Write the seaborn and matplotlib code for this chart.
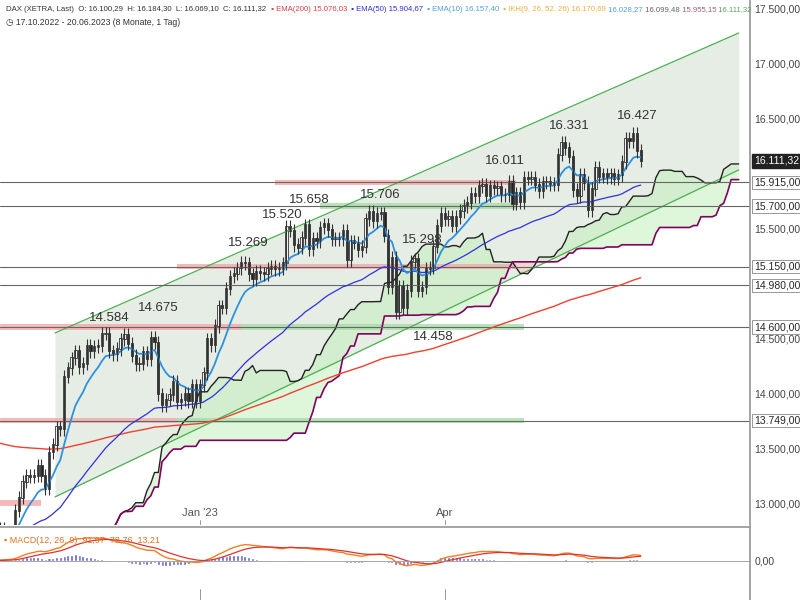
import numpy as np, pandas as pd, matplotlib
matplotlib.use("Agg")
import matplotlib.pyplot as plt
import seaborn as sns

sns.set_theme(style="white")
plt.rcParams['font.family'] = ['Liberation Sans', 'DejaVu Sans']

closes = [12650,12765,12740,12740,12730, 12930,13050,13195,13245,13240, 13250,13340,13250,13130,13460,
 13530,13690,13670,14150,14225, 14315,14380,14235,14265,14430, 14380,14420,14430,14540,14540,
 14380,14355,14400,14490,14530, 14450,14340,14260,14265,14370, 14310,14500,14460,13990,13890,
 13940,13985,14100,13915,13940, 13995,13925,14070,13925,
 14070,14180,14490,14435,14610, 14790,14775,14950,15060,15085, 15135,15185,15180,15080,15035,
 15100,15090,15080,15130,15150, 15125,15130,15180,15510,15475, 15345,15320,15410,15525,15310,
 15400,15380,15505,15535,15480, 15400,15400,15400,15475,15210, 15380,15365,15300,15330,15580,
 15650,15560,15630,15635,15430, 14960,15230,14735,14970,14770, 14930,15195,15215,14930,14960,
 15130,15140,15330,15520,15630, 15580,15600,15520,15600, 15655,15700,15730,15810,
 15790,15880,15895,15795,15880, 15860,15870,15800,15800,15920, 15720,15815,15735,15960,
 15950,15955,15895,15835,15915, 15915,15900,15895,16165,16275, 16225,16150,15845,15790,15985,
 15910,15660,15855,16050, 15965,15990,15960,15990,15950, 15980,16100,16310,16290,16360, 16200,16111]
wick = 60
tick_pos = [54, 119]
tick_labels = ["Jan '23", "Apr"]
peak_idx = [30, 43, 67, 76, 83, 102, 113, 116, 135, 152, 170]
peak_val = [14584, 14675, 15269, 15520, 15658, 15706, 15298, 14458, 16011, 16331, 16427]
peak_txt = ["14.584","14.675","15.269","15.520","15.658","15.706","15.298","14.458","16.011","16.331","16.427"]
peak_low = [False]*7 + [True] + [False]*3
levels = [15915, 15700, 15150, 14980, 14600, 13749]
level_txt = ["15.915,00","15.700,00","15.150,00","14.980,00","14.600,00","13.749,00"]
bands = [(15915,74,138,'#f4a8a8'),(15700,86,138,'#a8dca8'),(15150,48,138,'#f4a8a8'),
         (14600,0,65,'#f4a8a8'),(14600,65,140,'#a8dca8'),(13749,0,48,'#f4a8a8'),(13749,48,140,'#a8dca8'),(13000,0,12,'#f4a8a8')]
chan_x = [15.6, 197]
chan_up = [14546, 17273]
chan_lo = [13055, 16028]
ema200_seed = 13560

c = pd.Series(closes, dtype=float)
n = len(c)
o = c.shift(1).fillna(c.iloc[0] - 50).values
cv = c.values
h = np.maximum(o, cv) + wick
l = np.minimum(o, cv) - wick
idx = np.arange(n)

def ema(s, span, seed=None):
    a = 2 / (span + 1); out = []; v = seed if seed is not None else s.iloc[0]
    for x in s:
        v = a * x + (1 - a) * v; out.append(v)
    return np.array(out)
e10 = ema(c, 10); e50 = ema(c, 50, 12700); e200 = ema(c, 200, ema200_seed)
hs, ls = pd.Series(h), pd.Series(l)
ten = (hs.rolling(9, min_periods=1).max() + ls.rolling(9, min_periods=1).min()) / 2
kij = (hs.rolling(26, min_periods=1).max() + ls.rolling(26, min_periods=1).min()) / 2
spA = ((ten + kij) / 2).values
spB = ((hs.rolling(52, min_periods=1).max() + ls.rolling(52, min_periods=1).min()) / 2).values
cx = idx + 26

fig = plt.figure(figsize=(8, 6), dpi=100)
ax = fig.add_axes([0, 0.125, 0.9375, 0.875])
ax2 = fig.add_axes([0, 0, 0.9375, 0.122], sharex=ax)
X0, X1 = 1, 200
ax.set_xlim(X0, X1); ax.set_ylim(12800, 17573)

ax.fill_between([chan_x[0], chan_x[1]], chan_lo, chan_up, color='#dfe9df', alpha=0.8, lw=0)
ax.plot(chan_x, chan_up, color='#4caf50', lw=0.9); ax.plot(chan_x, chan_lo, color='#4caf50', lw=0.9)
ax.fill_between(cx, spA, spB, where=spA >= spB, color='#c8f0c0', alpha=0.6, lw=0, interpolate=True)
ax.fill_between(cx, spA, spB, where=spA < spB, color='#f8c8c8', alpha=0.6, lw=0, interpolate=True)
ax.plot(cx, spA, color='#222222', lw=1); ax.plot(cx, spB, color='#800060', lw=1.2)
for y0, a, b, col in bands:
    ax.fill_between([a, b], y0 - 25, y0 + 25, color=col, alpha=0.8, lw=0)
for y0 in levels:
    ax.axhline(y0, color='#666666', lw=0.8)
ax.plot(idx, e200, color='#f04030', lw=1); ax.plot(idx, e50, color='#3030e0', lw=0.9)
ax.plot(idx, e10, color='#3090e0', lw=1.3)
for i in range(n):
    ax.vlines(i, l[i], h[i], color='#333333', lw=0.8)
    up = cv[i] >= o[i]
    ax.bar(i, abs(cv[i] - o[i]) + 8, bottom=min(cv[i], o[i]), width=0.6,
           color='white' if up else '#222222', edgecolor='#333333', lw=0.6)
for i, v, t, lo in zip(peak_idx, peak_val, peak_txt, peak_low):
    y = (v + 110) if lo else (v + 40)
    ax.text(i, y, t, ha='center', va='top' if lo else 'bottom', fontsize=9.5, color='#333333')
yt = [13000,13500,14000,14500,15000,15500,16500,17000,17500]
ax.yaxis.tick_right()
ax.set_yticks(yt)
ax.set_yticklabels([f"{v:,}".replace(',', '.') + ",00" for v in yt], fontsize=7.5, color='#444444')
ax.tick_params(axis='y', pad=3, length=0)
for y0, t in zip(levels, level_txt):
    ax.text(1.005, y0, t, transform=ax.get_yaxis_transform(), fontsize=7.5, va='center', ha='left',
            bbox=dict(boxstyle='square,pad=0.15', fc='white', ec='#888888', lw=0.6), zorder=5)
ax.text(1.005, cv[-1], "16.111,32", transform=ax.get_yaxis_transform(), fontsize=7.5, va='center', ha='left',
        color='white', bbox=dict(boxstyle='square,pad=0.2', fc='#222222', ec='#222222'), zorder=6)
for i in tick_pos:
    ax.axvline(i, color='#888888', lw=0.6, ymax=0.01)
ax.set_xticks(tick_pos); ax.set_xticklabels(tick_labels, fontsize=8, color='#555555')
ax.tick_params(axis='x', direction='in', pad=-12, length=0)
for s in ['top', 'left', 'bottom']:
    ax.spines[s].set_visible(False)
ax.spines['right'].set_color('#999999')

hdr = [("DAX (XETRA, Last)  O: 16.100,29  H: 16.184,30  L: 16.069,10  C: 16.111,32", '#333333'),
       ("  \u25aa EMA(200) 15.076,03", '#e04040'), ("  \u25aa EMA(50) 15.904,67", '#3030e0'),
       ("  \u25aa EMA(10) 16.157,40", '#50a0e0'), ("  \u25aa IKH(9, 26, 52, 26) 16.170,69", '#f0b040'),
       (" 16.028,27", '#50a0e0'), (" 16.099,48", '#666666'), (" 15.955,15", '#a06080'), (" 16.111,32", '#60a060')]
xx = 0.008
for t, col in hdr:
    tt = fig.text(xx, 0.984, t, fontsize=5.6, color=col, va='center')
    fig.canvas.draw()
    bb = tt.get_window_extent(); xx += bb.width / 800
fig.text(0.008, 0.962, "\u25f7 17.10.2022 - 20.06.2023 (8 Monate, 1 Tag)", fontsize=6.2, color='#333333', va='center')

m = ema(c, 12) - ema(c, 26); sig = ema(pd.Series(m), 9); hist = m - sig
ax2.bar(idx, hist, width=0.8, color='#6060d0')
ax2.plot(idx, m, color='#f08020', lw=1); ax2.plot(idx, sig, color='#e03030', lw=0.9)
ax2.axhline(0, color='#999999', lw=0.6)
ax2.set_ylim(-700, 600)
ax2.yaxis.tick_right(); ax2.set_yticks([0]); ax2.set_yticklabels(["0,00"], fontsize=7.5, color='#444444')
ax2.tick_params(axis='y', length=0); ax2.tick_params(axis='x', length=0, labelbottom=False)
for i in tick_pos:
    ax2.axvline(i, color='#888888', lw=0.6, ymin=0, ymax=0.15)
for s in ['bottom', 'left']:
    ax2.spines[s].set_visible(False)
ax2.spines['top'].set_color('#999999'); ax2.spines['right'].set_color('#999999')
ax2.text(0.006, 0.88, "\u25aa MACD(12, 26, 9)  91,97  78,76  13,21", transform=ax2.transAxes, fontsize=6.5, color='#e07020', va='top')
fig.savefig("out.png", dpi=100)
